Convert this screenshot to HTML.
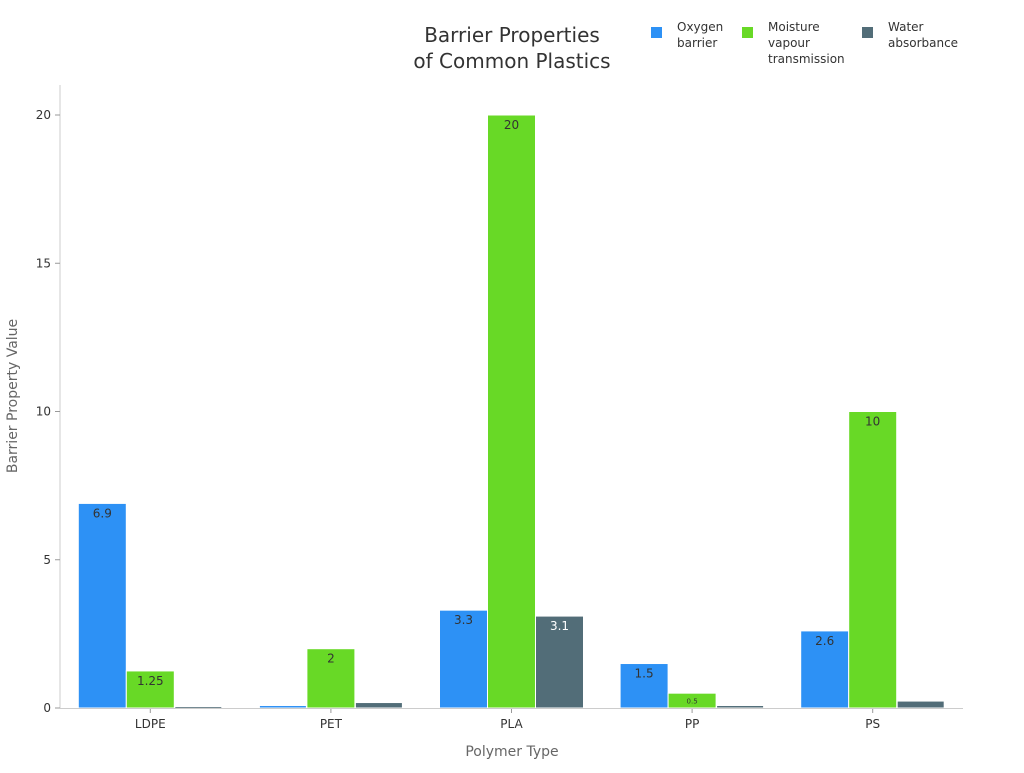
<!DOCTYPE html>
<html><head><meta charset="utf-8"><style>
body{margin:0;background:#fff;font-family:"Liberation Sans","DejaVu Sans",sans-serif}
svg text{font-family:"DejaVu Sans","Liberation Sans",sans-serif}
</style></head><body>
<svg id="c" width="1024" height="768">
<text x="512" y="42" text-anchor="middle" font-size="20" fill="#333">Barrier Properties</text>
<text x="512" y="68" text-anchor="middle" font-size="20" fill="#333">of Common Plastics</text>
<text x="17" y="396" transform="rotate(-90 17 396)" text-anchor="middle" font-size="14" fill="#666">Barrier Property Value</text>
<text x="512" y="756" text-anchor="middle" font-size="14" fill="#666">Polymer Type</text>
<g id="g"></g>
</svg>
<script>
const categories=["LDPE","PET","PLA","PP","PS"];
const oxygen=[6.9,0.05,3.3,1.5,2.6];
const moisture=[1.25,2,20,0.5,10];
const water=[0.01,0.15,3.1,0.05,0.2];
const yTicks=[0,5,10,15,20];
const seriesNames=["Oxygen barrier","Moisture vapour transmission","Water absorbance"];
const colors=["#2d91f5","#68d926","#526d78"];
const X0=60,X1=963,Y0=708,Y20=115;
const y=v=>Y0-(Y0-Y20)*v/20;
const band=(X1-X0)/categories.length;
const xc=i=>X0+band*(i+0.5);
const g=document.getElementById('g');
const NS="http://www.w3.org/2000/svg";
function mk(t,a){const e=document.createElementNS(NS,t);for(const k in a)e.setAttribute(k,a[k]);g.appendChild(e);return e;}
let e=mk('line',{x1:X0,y1:85,x2:X0,y2:Y0,stroke:'#ccc'});

yTicks.forEach(t=>{
 const l=mk('line',{x1:X0-5,x2:X0,y1:y(t),y2:y(t),stroke:'#999'});
 
 const tx=mk('text',{x:X0-9,y:y(t)+4,'text-anchor':'end','font-size':12,fill:'#333'});tx.textContent=t;
 
});
const series=[oxygen,moisture,water];
const bw=48;
categories.forEach((c,i)=>{
 const l=mk('line',{x1:xc(i),x2:xc(i),y1:Y0,y2:Y0+5,stroke:'#999'});
 
 const tx=mk('text',{x:xc(i),y:Y0+20,'text-anchor':'middle','font-size':12,fill:'#333'});tx.textContent=c;
 
 series.forEach((s,k)=>{
  const v=s[i],x=xc(i)-bw*1.5+k*bw,top=y(v),h=Y0-top;
  const small=h<6;
  const r=mk('rect',{x:x+(small?1:0),y:top-(small?0.5:0),width:bw-(small?2:0),height:Math.max(h,1.5),fill:colors[k],stroke:small?'none':'#fff','stroke-width':1});
  
  if(h>8){
   const fs=h>20?12:7;
   const t=mk('text',{x:x+bw/2,y:top+(h>20?14:h/2+3),'text-anchor':'middle','font-size':fs,fill:k==2?'#fff':'#333'});
   t.textContent=v;
   
  }
 });
});
e=mk('line',{x1:X0,y1:Y0+0.5,x2:X1,y2:Y0+0.5,stroke:'#ccc'});

const lx=[651,742,862];
const lines=[["Oxygen","barrier"],["Moisture","vapour","transmission"],["Water","absorbance"]];
lines.forEach((ls,k)=>{
 const r=mk('rect',{x:lx[k],y:27,width:11,height:11,fill:colors[k]});
 
 ls.forEach((s,j)=>{const t=mk('text',{x:lx[k]+26,y:31+j*16,'font-size':12,fill:'#333'});t.textContent=s;
 });
});
</script>
</body></html>
